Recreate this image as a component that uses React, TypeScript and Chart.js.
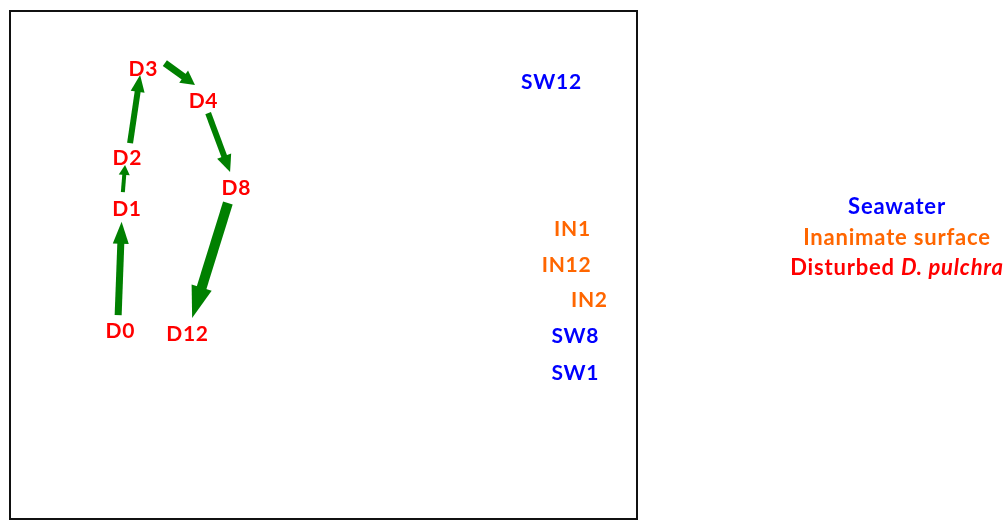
import React, { useEffect, useRef } from "react";
import { Chart, registerables } from "chart.js";

Chart.register(...registerables);

// Sample labels and ordination coordinates (arbitrary units, -1..1)
const dLabels = ["D0", "D1", "D2", "D3", "D4", "D8", "D12"];
const dX = [-0.649, -0.628, -0.627, -0.576, -0.384, -0.279, -0.435];
const dY = [-0.256, 0.224, 0.425, 0.776, 0.65, 0.307, -0.268];

const inLabels = ["IN1", "IN12", "IN2"];
const inX = [0.793, 0.774, 0.847];
const inY = [0.146, 0.004, -0.134];

const swLabels = ["SW12", "SW8", "SW1"];
const swX = [0.726, 0.802, 0.802];
const swY = [0.724, -0.276, -0.421];

// Trajectory arrows (start / end in the same units)
const arrowFromX = [-0.655, -0.64, -0.617, -0.506, -0.368, -0.305];
const arrowFromY = [-0.197, 0.287, 0.48, 0.795, 0.598, 0.244];
const arrowToX = [-0.644, -0.633, -0.585, -0.41, -0.298, -0.419];
const arrowToY = [0.17, 0.394, 0.748, 0.709, 0.366, -0.209];
const arrowShaft = [7, 4, 6, 7, 6, 10];
const arrowHeadW = [16, 11, 14, 15, 15, 21];
const arrowHeadL = [22, 10, 17, 14, 17, 32];

const legendItems = ["Seawater", "Inanimate surface", "Disturbed"];
const legendColors = ["#0000FF", "#FF6600", "#FF0000"];

const FONT = "Lato, 'Open Sans', sans-serif";

export default function App() {
  const ref = useRef<HTMLCanvasElement>(null);
  useEffect(() => {
    document.body.style.margin = "0";
    const canvas = ref.current!;
    const mk = (xs: number[], ys: number[]) => xs.map((x, i) => ({ x, y: ys[i] }));

    const labelPlugin = {
      id: "labels",
      afterDatasetsDraw(chart: any) {
        const ctx = chart.ctx as any;
        const xs = chart.scales.x;
        const ys = chart.scales.y;
        const area = chart.chartArea;
        ctx.save();
        // arrows
        ctx.fillStyle = "#008000";
        ctx.strokeStyle = "#008000";
        for (let i = 0; i < arrowFromX.length; i++) {
          const x0 = xs.getPixelForValue(arrowFromX[i]);
          const y0 = ys.getPixelForValue(arrowFromY[i]);
          const x1 = xs.getPixelForValue(arrowToX[i]);
          const y1 = ys.getPixelForValue(arrowToY[i]);
          const dx = x1 - x0, dy = y1 - y0;
          const len = Math.hypot(dx, dy);
          const ux = dx / len, uy = dy / len;
          const px = -uy, py = ux;
          const hl = arrowHeadL[i], hw = arrowHeadW[i] / 2;
          const bx = x1 - ux * hl, by = y1 - uy * hl;
          ctx.lineWidth = arrowShaft[i];
          ctx.lineCap = "butt";
          ctx.beginPath();
          ctx.moveTo(x0, y0);
          ctx.lineTo(bx + ux * 1, by + uy * 1);
          ctx.stroke();
          ctx.beginPath();
          ctx.moveTo(x1, y1);
          ctx.lineTo(bx + px * hw, by + py * hw);
          ctx.lineTo(bx - px * hw, by - py * hw);
          ctx.closePath();
          ctx.fill();
        }
        // labels
        ctx.font = `bold 21px ${FONT}`;
        ctx.letterSpacing = "0.7px";
        ctx.textAlign = "left";
        ctx.textBaseline = "middle";
        const colors = ["#FF0000", "#FF6600", "#0000FF"];
        const lbls = [dLabels, inLabels, swLabels];
        chart.data.datasets.forEach((ds: any, di: number) => {
          const meta = chart.getDatasetMeta(di);
          ctx.fillStyle = colors[di];
          meta.data.forEach((pt: any, i: number) => {
            const w = ctx.measureText(lbls[di][i]).width - 0.7;
            ctx.fillText(lbls[di][i], pt.x - w / 2, pt.y + 1);
          });
        });
        // frame
        ctx.letterSpacing = "0px";
        ctx.strokeStyle = "#111";
        ctx.lineWidth = 2;
        ctx.strokeRect(area.left, area.top, area.right - area.left, area.bottom - area.top);
        // legend
        const cx = 897;
        const rows = [206, 237, 267];
        const SZ = 22;
        ctx.letterSpacing = "0.8px";
        ctx.textAlign = "left";
        legendItems.forEach((t, i) => {
          ctx.fillStyle = legendColors[i];
          if (i < 2) {
            ctx.font = `bold ${SZ}px ${FONT}`;
            const w = ctx.measureText(t).width;
            ctx.fillText(t, cx - w / 2, rows[i] + 1);
          } else {
            ctx.font = `bold ${SZ}px ${FONT}`;
            const a = t + " ";
            const wa = ctx.measureText(a).width;
            ctx.font = `italic bold ${SZ}px ${FONT}`;
            const b = "D. pulchra";
            const wb = ctx.measureText(b).width;
            const start = cx - (wa + wb) / 2;
            ctx.font = `bold ${SZ}px ${FONT}`;
            ctx.fillText(a, start, rows[i] + 1);
            ctx.font = `italic bold ${SZ}px ${FONT}`;
            ctx.fillText(b, start + wa, rows[i] + 1);
          }
        });
        ctx.restore();
      },
    };

    const chart = new Chart(canvas, {
      type: "scatter",
      data: {
        datasets: [
          { label: "Disturbed D. pulchra", data: mk(dX, dY), pointRadius: 0 },
          { label: "Inanimate surface", data: mk(inX, inY), pointRadius: 0 },
          { label: "Seawater", data: mk(swX, swY), pointRadius: 0 },
        ],
      },
      options: {
        animation: false,
        responsive: false,
        events: [],
        layout: { padding: { left: 10, top: 11, right: 370, bottom: 8 } },
        plugins: { legend: { display: false }, tooltip: { enabled: false } },
        scales: {
          x: { type: "linear", min: -1, max: 1, display: false },
          y: { type: "linear", min: -1, max: 1, display: false },
        },
      },
      plugins: [labelPlugin],
    });
    return () => chart.destroy();
  }, []);
  return (
    <div style={{ width: 1007, height: 527 }}>
      <canvas ref={ref} width={1007} height={527} style={{ display: "block" }} />
    </div>
  );
}
